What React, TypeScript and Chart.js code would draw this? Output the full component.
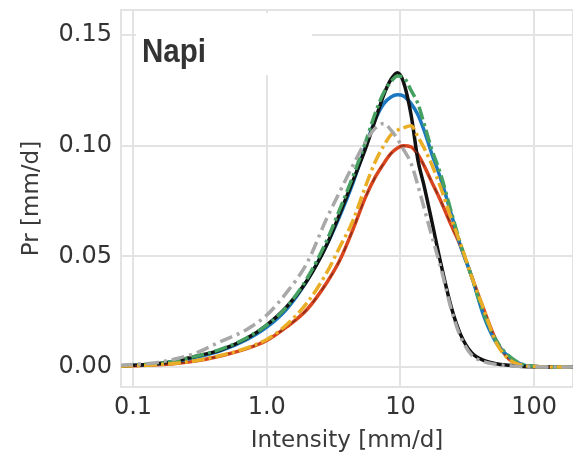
import { useEffect, useRef } from "react";
import { Chart, registerables } from "chart.js";

Chart.register(...registerables);

// Shared intensity grid [mm/d]
const intensity = [0.08, 0.1, 0.15, 0.2, 0.3, 0.45, 0.7, 1.0, 1.4, 2.0, 2.8, 3.5, 4.4, 5.5, 6.5, 7.5, 8.5, 9.5, 10.5, 12, 13.5, 15, 17, 20, 24, 28, 34, 42, 52, 65, 82, 110, 150, 200];

const seriesBlack = [0.0005, 0.0008, 0.0015, 0.0025, 0.005, 0.0077, 0.0128, 0.019, 0.027, 0.039, 0.055, 0.069, 0.084, 0.099, 0.112, 0.123, 0.130, 0.133, 0.129, 0.114, 0.0935, 0.082, 0.067, 0.047, 0.027, 0.015, 0.0065, 0.003, 0.0015, 0.0008, 0.0003, 0.0001, 0, 0];
const seriesGray = [0.0008, 0.0012, 0.002, 0.0035, 0.0065, 0.0115, 0.0168, 0.0235, 0.0335, 0.047, 0.067, 0.079, 0.091, 0.102, 0.108, 0.110, 0.107, 0.103, 0.0985, 0.092, 0.082, 0.072, 0.060, 0.045, 0.026, 0.014, 0.0055, 0.0025, 0.0012, 0.0006, 0.0002, 0, 0, 0];
const seriesBlue = [0.0005, 0.0008, 0.0014, 0.0023, 0.0045, 0.0073, 0.0122, 0.018, 0.026, 0.039, 0.055, 0.068, 0.083, 0.100, 0.112, 0.119, 0.122, 0.123, 0.1225, 0.119, 0.114, 0.107, 0.097, 0.085, 0.069, 0.055, 0.041, 0.023, 0.011, 0.0045, 0.001, 0.0002, 0, 0];
const seriesGreen = [0.0006, 0.0009, 0.0016, 0.0026, 0.005, 0.008, 0.013, 0.019, 0.027, 0.040, 0.057, 0.071, 0.086, 0.102, 0.115, 0.124, 0.129, 0.1315, 0.131, 0.125, 0.119, 0.110, 0.099, 0.087, 0.070, 0.056, 0.041, 0.024, 0.012, 0.005, 0.0012, 0.0002, 0, 0];
const seriesYellow = [0.0004, 0.0006, 0.001, 0.0016, 0.003, 0.0052, 0.0085, 0.0125, 0.019, 0.029, 0.0425, 0.054, 0.066, 0.082, 0.093, 0.100, 0.105, 0.107, 0.108, 0.109, 0.104, 0.099, 0.092, 0.081, 0.067, 0.056, 0.041, 0.026, 0.011, 0.0035, 0.0008, 0.0002, 0, 0];
const seriesRed = [0.0004, 0.0006, 0.001, 0.0015, 0.0028, 0.005, 0.0082, 0.012, 0.018, 0.026, 0.038, 0.048, 0.062, 0.077, 0.086, 0.092, 0.0965, 0.099, 0.100, 0.0995, 0.096, 0.091, 0.084, 0.075, 0.064, 0.055, 0.041, 0.026, 0.012, 0.0035, 0.0008, 0.0002, 0, 0];

const xTicks = [0.1, 1, 10, 100];
const xTickLabels = ["0.1", "1.0", "10", "100"];
const yTicks = [0, 0.05, 0.1, 0.15];
const yTickLabels = ["0.00", "0.05", "0.10", "0.15"];

const panelTitle = "Napi";

export default function App() {
  const ref = useRef<HTMLCanvasElement>(null);

  useEffect(() => {
    if (!ref.current) return;
    const pts = (ys: number[]) => intensity.map((x, i) => ({ x, y: ys[i] }));

    const panelPlugin = {
      id: "panel",
      beforeDatasetsDraw(chart: any) {
        const { ctx, chartArea: a } = chart;
        ctx.save();
        ctx.strokeStyle = "#e3e3e3";
        ctx.lineWidth = 2;
        ctx.strokeRect(a.left, a.top, a.right - a.left, a.bottom - a.top);
        ctx.fillStyle = "#ffffff";
        ctx.fillRect(a.left + 15, a.top + 3, 176, 62);
        ctx.restore();
      },
      afterDraw(chart: any) {
        const { ctx, chartArea: a } = chart;
        ctx.save();
        ctx.font = 'bold 34px "Liberation Sans", Arial, sans-serif';
        ctx.fillStyle = "#333333";
        ctx.textBaseline = "alphabetic";
        const w = ctx.measureText(panelTitle).width;
        const sx = 64 / w;
        ctx.translate(a.left + 21, a.top + 52);
        ctx.scale(sx, 1);
        ctx.fillText(panelTitle, 0, 0);
        ctx.restore();
      },
    };

    const line = (data: number[], color: string, width: number, dash: number[]) => ({
      data: pts(data),
      borderColor: color,
      backgroundColor: color,
      borderWidth: width,
      borderDash: dash,
      pointRadius: 0,
      fill: false,
      cubicInterpolationMode: "monotone" as const,
    });

    const chart = new Chart(ref.current, {
      type: "line",
      data: {
        datasets: [
          line(seriesGray, "#a8a8a8", 3.5, [13, 5, 3, 5]),
          line(seriesYellow, "#e9ae25", 3.5, [13, 4, 3, 4]),
          line(seriesGreen, "#45a061", 3.5, [13, 4, 3, 4]),
          line(seriesRed, "#8a2e1c", 1.5, [6, 9]),
          line(seriesBlack, "#111111", 3.5, []),
          line(seriesBlue, "#1b78c0", 3.5, []),
          line(seriesRed, "#d9461e", 3.5, []),
        ],
      },
      plugins: [panelPlugin],
      options: {
        animation: false,
        responsive: false,
        maintainAspectRatio: false,
        layout: { padding: { top: 10, right: 0, left: 0, bottom: 0 } },
        plugins: { legend: { display: false }, tooltip: { enabled: false }, title: { display: false } },
        scales: {
          x: {
            type: "logarithmic",
            min: 0.0813,
            max: 195,
            afterFit: (s: any) => { s.height = 69; s.paddingLeft = 0; s.paddingRight = 0; },
            afterBuildTicks: (s: any) => { s.ticks = xTicks.map((v) => ({ value: v })); },
            grid: { color: "#e3e3e3", lineWidth: 2, drawTicks: false },
            border: { display: false },
            ticks: {
              padding: 6,
              color: "#333333",
              font: { family: '"DejaVu Sans"', size: 24 },
              maxRotation: 0,
              autoSkip: false,
              callback: (_v: any, i: number) => xTickLabels[i],
            },
            title: {
              display: true,
              text: "Intensity [mm/d]",
              color: "#3a3a3a",
              font: { family: '"DejaVu Sans"', size: 23 },
              padding: { top: 0, bottom: 1 },
            },
          },
          y: {
            type: "linear",
            min: -0.009,
            max: 0.1613,
            afterFit: (s: any) => { s.width = 121; s.paddingTop = 0; s.paddingBottom = 0; },
            afterBuildTicks: (s: any) => { s.ticks = yTicks.map((v) => ({ value: v })); },
            grid: { color: "#e3e3e3", lineWidth: 2, drawTicks: false },
            border: { display: false },
            ticks: {
              padding: 9,
              color: "#333333",
              font: { family: '"DejaVu Sans"', size: 24 },
              callback: (_v: any, i: number) => yTickLabels[i],
            },
            title: {
              display: true,
              text: "Pr [mm/d]",
              color: "#3a3a3a",
              font: { family: '"DejaVu Sans"', size: 23 },
              padding: { top: 18, bottom: 0 },
            },
          },
        },
      },
    });
    return () => chart.destroy();
  }, []);

  return (
    <div style={{ position: "fixed", left: 0, top: 0, width: 573, height: 456, background: "#fff" }}>
      <canvas ref={ref} width={573} height={456} style={{ width: 573, height: 456, display: "block" }} />
    </div>
  );
}
